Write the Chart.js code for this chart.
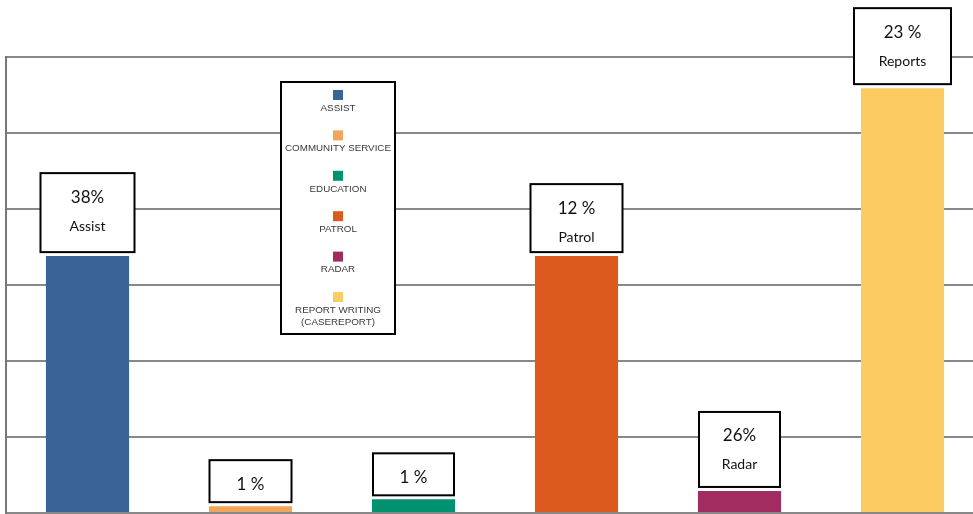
<!DOCTYPE html>
<html>
<head>
<meta charset="utf-8">
<script src="https://cdn.jsdelivr.net/npm/chart.js@4"></script>
<style>
    html, body { margin: 0; padding: 0; background: #fff; overflow: hidden; }
    #wrap { width: 990px; height: 514px; }
</style>
</head>
<body>
<div id="wrap"><canvas id="bar_chart" width="990" height="514"></canvas></div>
<script>
// chart data
const categories = ['Assist', 'Community Service', 'Education', 'Patrol', 'Radar', 'Report Writing (Casereport)'];
const legendLabels = [['ASSIST'], ['COMMUNITY SERVICE'], ['EDUCATION'], ['PATROL'], ['RADAR'], ['REPORT WRITING', '(CASEREPORT)']];
const values = [33.8, 0.9, 1.8, 33.8, 2.9, 55.9];
const percentLabels = ['38%', '1 %', '1 %', '12 %', '26%', '23 %'];
const nameLabels = ['Assist', '', '', 'Patrol', 'Radar', 'Reports'];
const yMax = 60;
const yStep = 10;

const barColors = ['#3b6496', '#f0a55a', '#00916e', '#dd5a1e', '#a22c60', '#fccc62'];
// callout box sizes [w, h]
const boxSizes = [[94, 79], [82, 42], [81, 42], [92, 68], [81, 75], [97, 76]];

// draws the callout boxes above each bar
const calloutPlugin = {
    id: 'callouts',
    afterDatasetsDraw(chart) {
        const ctx = chart.ctx;
        const meta = chart.getDatasetMeta(0);
        meta.data.forEach(function (bar, i) {
            const w = boxSizes[i][0], h = boxSizes[i][1];
            const bottom = bar.y - 4;
            const top = bottom - h;
            const left = bar.x - w / 2;
            ctx.save();
            ctx.fillStyle = '#fff';
            ctx.fillRect(left, top, w, h);
            ctx.strokeStyle = '#000';
            ctx.lineWidth = 2;
            ctx.strokeRect(left, top, w, h);
            ctx.fillStyle = '#111';
            ctx.textAlign = 'center';
            ctx.textBaseline = 'middle';
            if (nameLabels[i]) {
                ctx.font = '17px Lato';
                ctx.fillText(percentLabels[i], bar.x, top + 24);
                ctx.font = '14px Lato';
                ctx.fillText(nameLabels[i], bar.x, top + 53);
            } else {
                ctx.font = '17px Lato';
                ctx.fillText(percentLabels[i], bar.x, top + h / 2 + 3);
            }
            ctx.restore();
        });
    }
};

// legend box drawn inside the plot
const legendPlugin = {
    id: 'boxLegend',
    afterDraw(chart) {
        const ctx = chart.ctx;
        const left = 281, top = 82, w = 114, h = 252;
        const cx = left + w / 2;
        ctx.save();
        ctx.fillStyle = '#fff';
        ctx.fillRect(left, top, w, h);
        ctx.strokeStyle = '#000';
        ctx.lineWidth = 2;
        ctx.strokeRect(left, top, w, h);
        ctx.textAlign = 'center';
        ctx.textBaseline = 'middle';
        ctx.font = '9.8px "Liberation Sans"';
        legendLabels.forEach(function (lines, i) {
            const sy = 95 + i * 40.4;
            ctx.fillStyle = barColors[i];
            ctx.fillRect(cx - 5, sy - 5, 10, 10);
            ctx.fillStyle = '#3a3a3a';
            lines.forEach(function (line, j) {
                ctx.fillText(line, cx, sy + 13 + j * 12);
            });
        });
        ctx.restore();
    }
};

const ctx1 = document.getElementById('bar_chart').getContext('2d');
var chart1 = new Chart(ctx1, {
    type: 'bar',
    data: {
        labels: categories,
        datasets: [{
            data: values,
            backgroundColor: barColors,
            borderWidth: 0,
            barPercentage: 0.51,
            categoryPercentage: 1
        }]
    },
    options: {
        responsive: false,
        animation: false,
        layout: { padding: { left: 6, top: 57, right: 6, bottom: 1 } },
        plugins: {
            legend: { display: false },
            tooltip: { enabled: false }
        },
        scales: {
            x: {
                display: false
            },
            y: {
                min: 0,
                max: yMax,
                ticks: { display: false, stepSize: yStep },
                grid: { color: '#888', lineWidth: 2, drawTicks: false },
                border: { display: true, color: '#777', width: 2 }
            }
        }
    },
    plugins: [calloutPlugin, legendPlugin]
});
</script>
</body>
</html>
